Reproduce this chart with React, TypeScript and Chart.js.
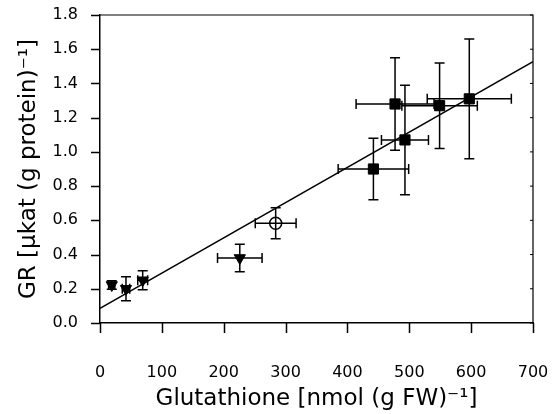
import React, { useEffect, useRef } from 'react';
import { Chart, registerables } from 'chart.js';

Chart.register(...registerables);

// Tick settings
const xMin = 0;
const xMax = 700;
const xStep = 100;
const yMin = 0;
const yMax = 1.8;
const yStep = 0.2;

// Triangle-down series
const triX = [19, 42, 69, 226];
const triY = [0.222, 0.2, 0.25, 0.38];
const triXErr = [5, 6, 8, 36];
const triYErr = [0.025, 0.07, 0.055, 0.08];

// Open circle series
const circX = [284];
const circY = [0.583];
const circXErr = [33];
const circYErr = [0.09];

// Square series
const sqX = [442, 493, 477, 549, 597];
const sqY = [0.9, 1.07, 1.28, 1.27, 1.31];
const sqXErr = [57, 38, 63, 61, 68];
const sqYErr = [0.18, 0.32, 0.27, 0.25, 0.35];

// Regression line end points
const fitX = [0, 700];
const fitY = [0.086, 1.527];

const xTitle = 'Glutathione [nmol (g FW)⁻¹]';
const yTitle = 'GR [µkat (g protein)⁻¹]';

const FONT = "'DejaVu Sans', Verdana, sans-serif";

const toPts = (xs: number[], ys: number[]) => xs.map((x, i) => ({ x, y: ys[i] }));

const errorBars = {
  id: 'errorBars',
  afterDatasetsDraw(chart: any) {
    const { ctx } = chart;
    const xs = chart.scales.x;
    const ys = chart.scales.y;
    const cap = 5;
    ctx.save();
    ctx.strokeStyle = '#000';
    ctx.lineWidth = 1.5;
    chart.data.datasets.forEach((ds: any) => {
      if (!ds.xErr) return;
      ds.data.forEach((p: any, i: number) => {
        const px = xs.getPixelForValue(p.x);
        const py = ys.getPixelForValue(p.y);
        const xl = xs.getPixelForValue(p.x - ds.xErr[i]);
        const xr = xs.getPixelForValue(p.x + ds.xErr[i]);
        const yt = ys.getPixelForValue(p.y + ds.yErr[i]);
        const yb = ys.getPixelForValue(p.y - ds.yErr[i]);
        ctx.beginPath();
        ctx.moveTo(xl, py);
        ctx.lineTo(xr, py);
        ctx.moveTo(xl, py - cap);
        ctx.lineTo(xl, py + cap);
        ctx.moveTo(xr, py - cap);
        ctx.lineTo(xr, py + cap);
        ctx.moveTo(px, yt);
        ctx.lineTo(px, yb);
        ctx.moveTo(px - cap, yt);
        ctx.lineTo(px + cap, yt);
        ctx.moveTo(px - cap, yb);
        ctx.lineTo(px + cap, yb);
        ctx.stroke();
      });
    });
    ctx.restore();
  },
};

const frame = {
  id: 'frame',
  afterDraw(chart: any) {
    const { ctx, chartArea } = chart;
    const xs = chart.scales.x;
    const ys = chart.scales.y;
    ctx.save();
    ctx.strokeStyle = '#000';
    ctx.lineWidth = 1.2;
    ctx.beginPath();
    ctx.moveTo(chartArea.left, chartArea.top);
    ctx.lineTo(chartArea.right, chartArea.top);
    ctx.lineTo(chartArea.right, chartArea.bottom);
    ctx.stroke();
    // inner ticks on the right frame
    ctx.lineWidth = 1;
    ctx.beginPath();
    ys.ticks.forEach((t: any) => {
      const py = ys.getPixelForValue(t.value);
      ctx.moveTo(chartArea.right, py);
      ctx.lineTo(chartArea.right - 3, py);
    });
    ctx.stroke();
    // outer tick marks on the axes
    ctx.lineWidth = 1.5;
    ctx.beginPath();
    ys.ticks.forEach((t: any) => {
      const py = Math.round(ys.getPixelForValue(t.value)) + 0.5;
      ctx.moveTo(chartArea.left - 9, py);
      ctx.lineTo(chartArea.left, py);
    });
    xs.ticks.forEach((t: any) => {
      const px = Math.round(xs.getPixelForValue(t.value)) + 0.5;
      ctx.moveTo(px, chartArea.bottom);
      ctx.lineTo(px, chartArea.bottom + 10);
    });
    ctx.stroke();
    ctx.restore();
  },
};

export default function App() {
  const ref = useRef<HTMLCanvasElement | null>(null);

  useEffect(() => {
    document.body.style.margin = '0';
    const canvas = ref.current;
    if (!canvas) return;
    const chart = new Chart(canvas, {
      type: 'scatter',
      data: {
        datasets: [
          {
            type: 'line',
            data: toPts(fitX, fitY),
            borderColor: '#000',
            borderWidth: 1.5,
            pointRadius: 0,
            fill: false,
          } as any,
          {
            data: toPts(triX, triY),
            xErr: triXErr,
            yErr: triYErr,
            pointStyle: 'triangle',
            rotation: 180,
            pointRadius: 6.5,
            backgroundColor: '#000',
            borderColor: '#000',
            borderWidth: 1,
          } as any,
          {
            data: toPts(circX, circY),
            xErr: circXErr,
            yErr: circYErr,
            pointStyle: 'circle',
            pointRadius: 6,
            backgroundColor: 'rgba(0,0,0,0)',
            borderColor: '#000',
            borderWidth: 1.5,
          } as any,
          {
            data: toPts(sqX, sqY),
            xErr: sqXErr,
            yErr: sqYErr,
            pointStyle: 'rect',
            pointRadius: 7.2,
            backgroundColor: '#000',
            borderColor: '#000',
            borderWidth: 1,
          } as any,
        ],
      },
      options: {
        animation: false,
        responsive: false,
        devicePixelRatio: 1,
        layout: { padding: { top: 15, right: 20, left: 0, bottom: 0 } },
        plugins: { legend: { display: false }, tooltip: { enabled: false } },
        scales: {
          x: {
            type: 'linear',
            min: xMin,
            max: xMax,
            afterFit: (s: any) => {
              s.height = 91;
            },
            ticks: {
              stepSize: xStep,
              padding: 3,
              color: '#000',
              font: { family: FONT, size: 16 },
            },
            grid: {
              drawOnChartArea: false,
              drawTicks: true,
              tickLength: 37,
              tickColor: 'rgba(0,0,0,0)',
            },
            border: { display: true, color: '#000', width: 1.5 },
            title: {
              display: true,
              text: xTitle,
              color: '#000',
              font: { family: FONT, size: 23, lineHeight: 1 },
              padding: { top: 0, bottom: 3 },
            },
          },
          y: {
            type: 'linear',
            min: yMin,
            max: yMax,
            afterFit: (s: any) => {
              s.width = 100;
            },
            ticks: {
              stepSize: yStep,
              padding: 3,
              color: '#000',
              font: { family: FONT, size: 16 },
              callback: (v: any) => Number(v).toFixed(1),
            },
            grid: {
              drawOnChartArea: false,
              drawTicks: true,
              tickLength: 19,
              tickColor: 'rgba(0,0,0,0)',
            },
            border: { display: true, color: '#000', width: 1.5 },
            title: {
              display: true,
              text: yTitle,
              color: '#000',
              font: { family: FONT, size: 23, lineHeight: 1 },
              padding: { top: 18, bottom: 0 },
            },
          },
        },
      },
      plugins: [errorBars, frame],
    });
    return () => chart.destroy();
  }, []);

  return (
    <div style={{ width: 553, height: 414 }}>
      <canvas ref={ref} width={553} height={414} style={{ display: 'block' }} />
    </div>
  );
}
